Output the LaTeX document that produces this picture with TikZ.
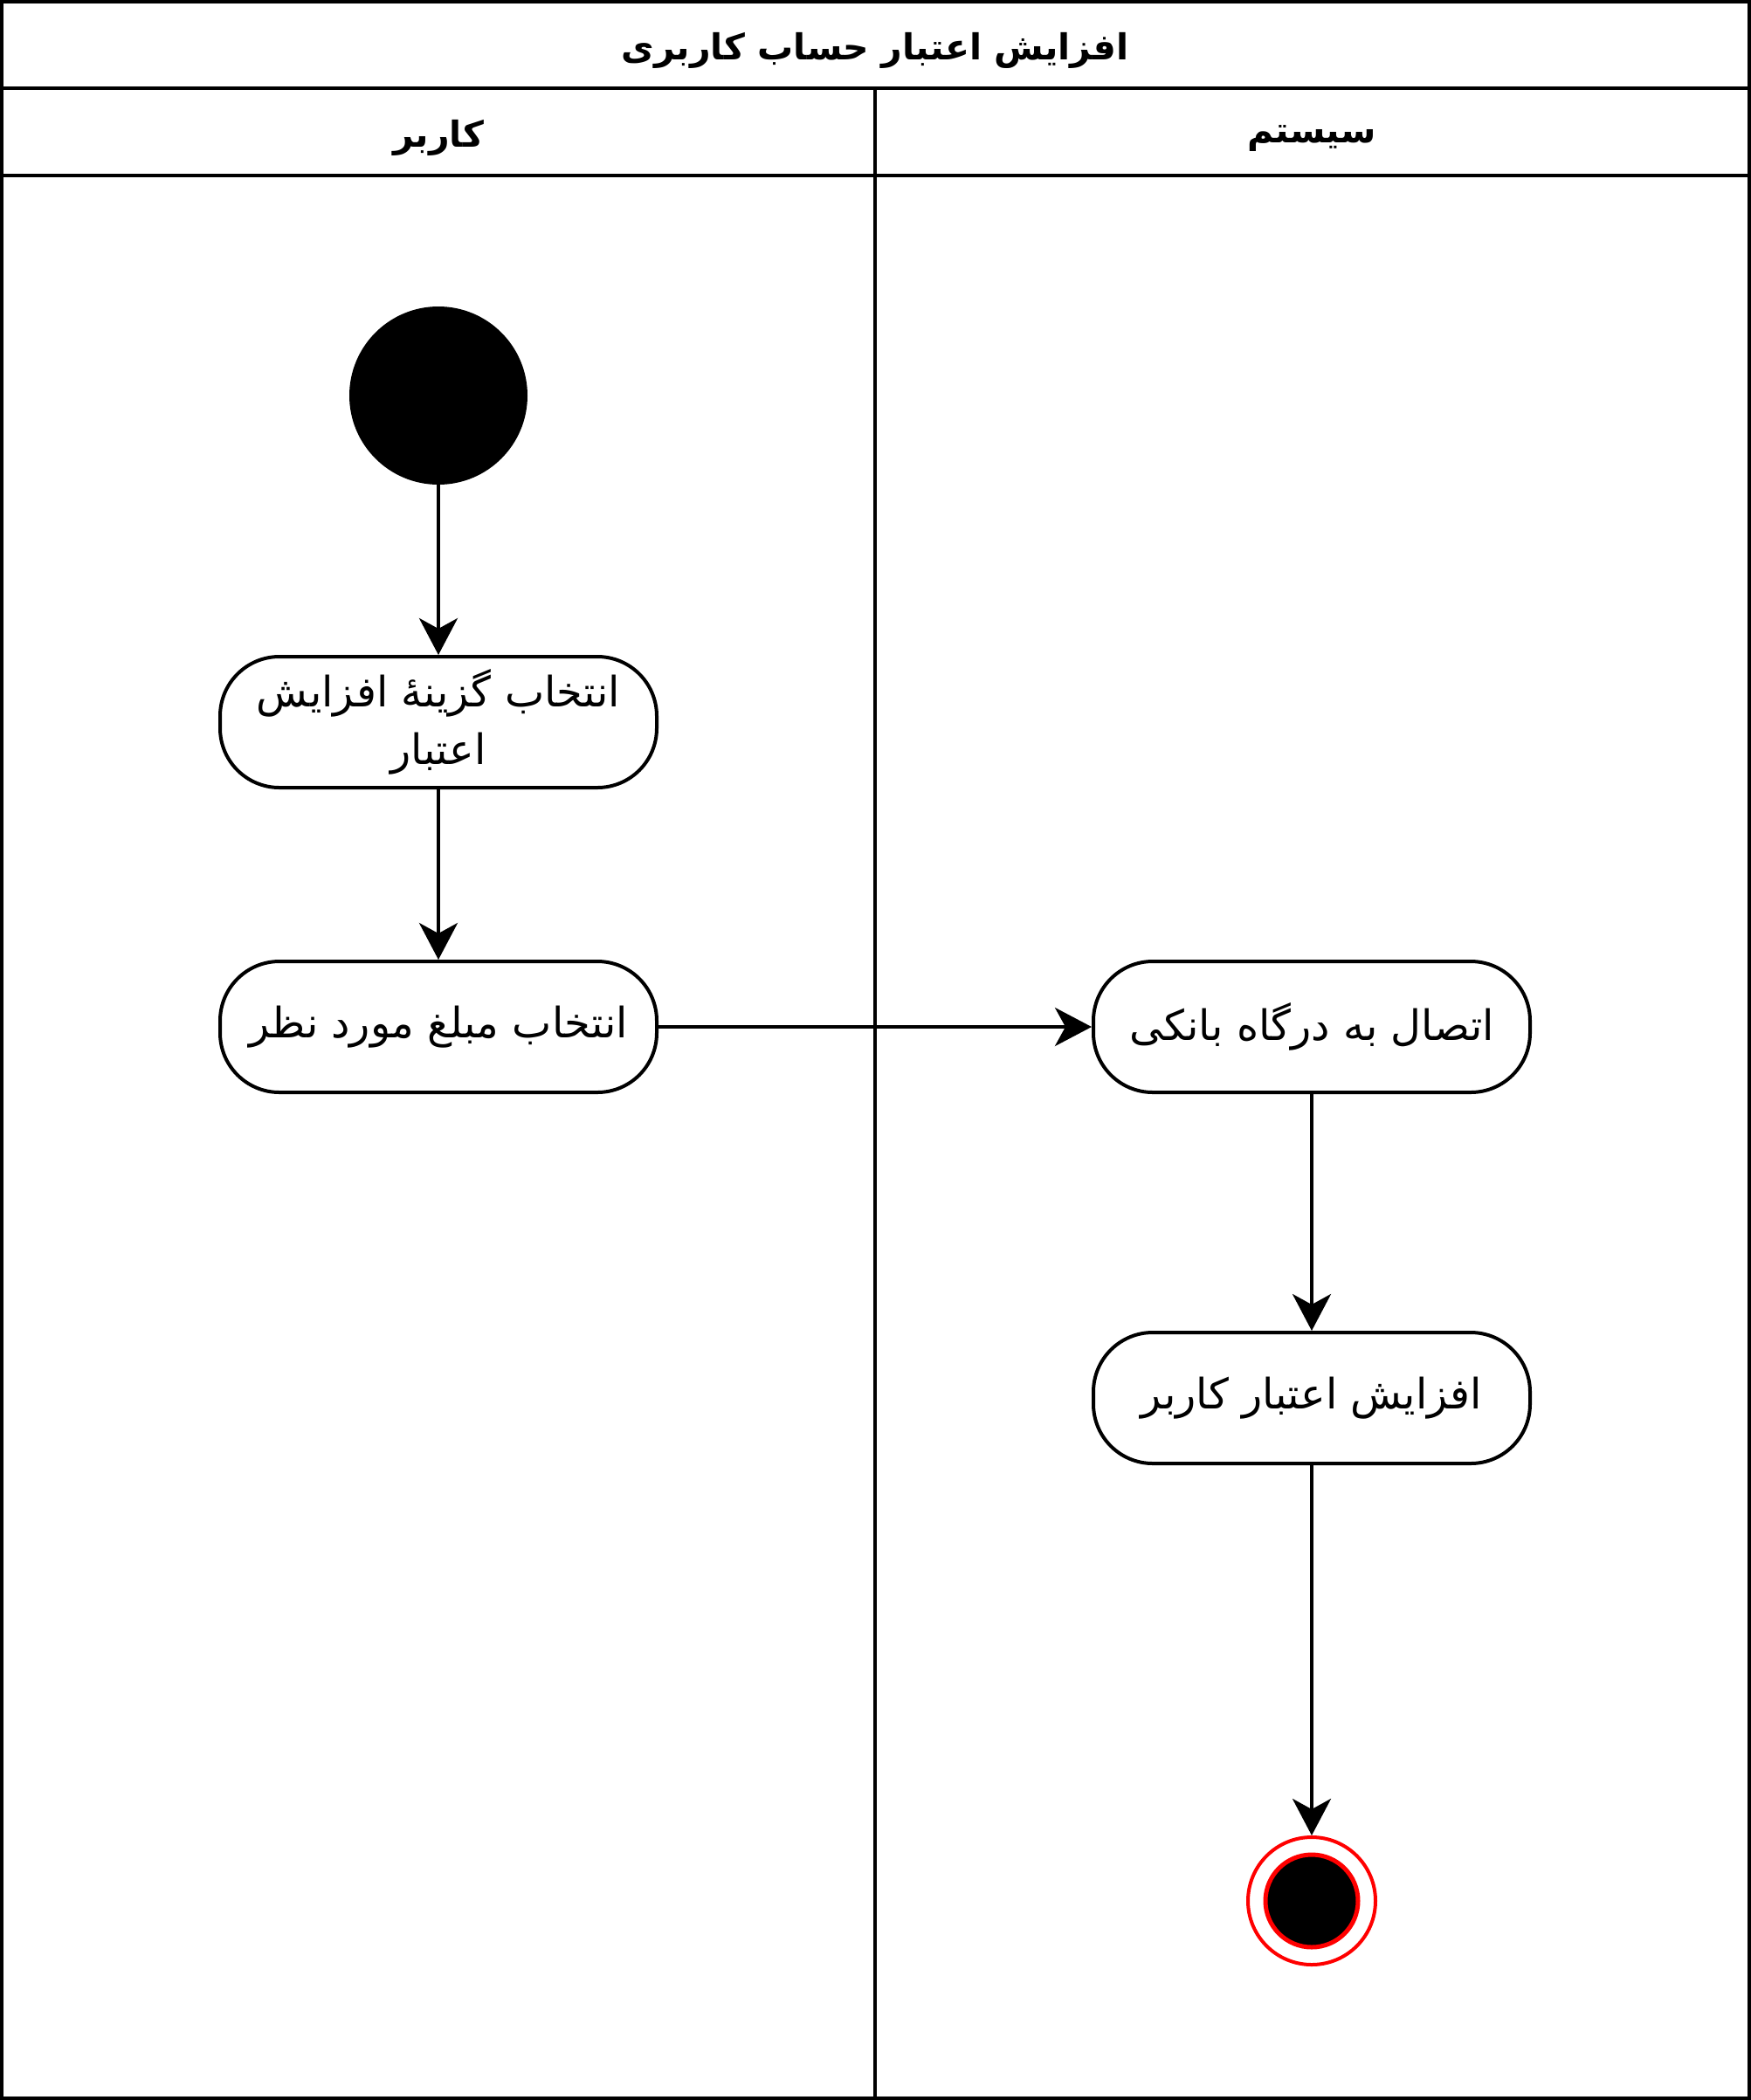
\documentclass[tikz,border=0pt]{standalone}
\usepackage{fontspec}
\usepackage{tikz}
\newfontfamily\arabicfont[Script=Arabic]{DejaVu Sans}
\TeXXeTstate=1
\usetikzlibrary{positioning,arrows.meta}

\tikzset{
	lane/.style={draw, line width=2pt},
	lanehead/.style={font=\arabicfont\bfseries\fontsize{20.5}{24}\selectfont},
	action/.style={draw, line width=2pt, rounded corners=34pt, minimum width=250pt, minimum height=75pt, align=center, inner sep=2pt, font=\arabicfont\fontsize{24}{33}\selectfont},
	startdot/.style={circle, fill=black, minimum size=102pt, inner sep=0pt},
	endring/.style={circle, draw=red, line width=2pt, minimum size=73pt, inner sep=0pt},
	enddot/.style={circle, fill=black, draw=red, line width=2.5pt, minimum size=53pt, inner sep=0pt},
	flow/.style={line width=2pt, -{Stealth[length=21pt, width=22pt, inset=6pt]}},
}

\begin{document}
\begin{tikzpicture}[node distance=187pt, auto]
		\useasboundingbox (0,0) rectangle (1002.5pt,-1202.5pt);
		
		% swimlanes
		\draw[lane] (1pt,-1pt) rectangle (1001.5pt,-1201.5pt);
		\draw[lane] (1pt,-50.5pt) -- (1001.5pt,-50.5pt);
		\draw[lane] (1pt,-100.5pt) -- (1001.5pt,-100.5pt);
		\draw[lane] (501pt,-50.5pt) -- (501pt,-1201.5pt);
		
		\node [lanehead] (title) at (501pt,-29pt) {\beginR افزایش اعتبار حساب کاربری\endR};
		\node [lanehead] (user) at (251pt,-79pt) {\beginR کاربر\endR};
		\node [lanehead] (system) at (751pt,-79pt) {\beginR سیستم\endR};
		
		% activities
		\node [startdot] (start) at (251pt,-226.5pt) {};
		\node [action, below of=start] (choose) {\beginR انتخاب گزینهٔ افزایش\endR\\\beginR اعتبار\endR};
		\node [action, below of=choose, node distance=174.5pt] (amount) {\beginR انتخاب مبلغ مورد نظر\endR};
		\node [action, right of=amount, node distance=500pt] (bank) {\beginR اتصال به درگاه بانکی\endR};
		\node [action, below of=bank, node distance=212.5pt] (credit) {\beginR افزایش اعتبار کاربر\endR};
		\node [endring, below of=credit, node distance=288pt] (final) {};
		\node [enddot] (finaldot) at (final) {};
		
		\draw[flow]
		(start) -- (choose);
		\draw[flow]
		(choose) -- (amount);
		\draw[flow]
		(amount) -- (bank);
		\draw[flow]
		(bank) -- (credit);
		\draw[flow]
		(credit) -- (final);
		
		\end{tikzpicture}
\end{document}
